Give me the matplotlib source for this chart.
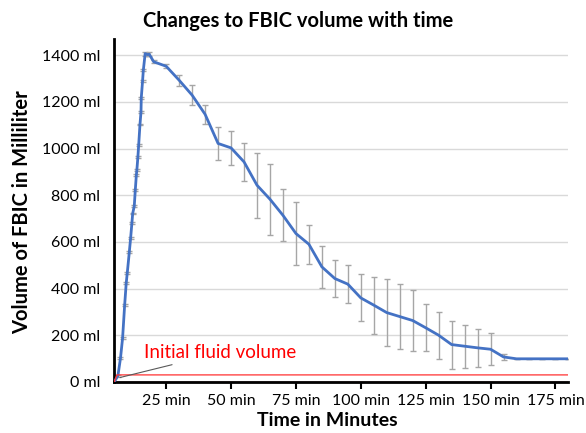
import matplotlib.pyplot as plt
from matplotlib.ticker import FuncFormatter

plt.rcParams['font.family'] = ['Lato', 'DejaVu Sans']

# time (min), volume (ml), error (ml)
minutes = [5, 6.4, 7.4, 8.2, 9.0, 9.6, 10.0, 10.8, 11.3, 11.8, 12.1, 12.7, 13.1, 13.5,
           13.7, 14.1, 14.4, 14.9, 15.3, 15.4, 15.9, 16.2, 16.9, 17.8, 18.5, 20.2,
           25, 30, 35, 40, 45, 50, 55, 60, 65, 70, 75, 80, 85, 90, 95, 100,
           105, 110, 115, 120, 125, 130, 135, 140, 145, 150, 155, 160, 165, 170, 175, 180]
volume = [0, 26, 102, 187, 329, 423, 466, 557, 616, 682, 722, 753, 822, 886,
          907, 964, 1014, 1103, 1157, 1217, 1289, 1336, 1407, 1403, 1404, 1372,
          1353, 1293, 1229, 1147, 1022, 1003, 943, 843, 783, 714, 636, 590, 493, 443, 419, 360,
          329, 297, 280, 263, 232, 200, 160, 153, 146, 140, 107, 99, 99, 99, 99, 99]
error = [0, 4, 4, 4, 4, 4, 4, 4, 4, 4, 4, 4, 4, 4,
         4, 4, 4, 4, 4, 4, 4, 4, 8, 8, 8, 6,
         9, 24, 43, 40, 69, 73, 80, 140, 153, 111, 135, 84, 90, 80, 80, 101,
         122, 145, 141, 130, 100, 100, 103, 93, 80, 68, 12, 0, 0, 0, 0, 0]

init_t = [5, 6, 180]
init_v = [0, 30, 30]

fig = plt.figure(figsize=(5.86, 4.33), dpi=100)
ax = fig.add_axes([0.195, 0.118, 0.775, 0.791])

ax.errorbar(minutes, volume, yerr=error, fmt='none', ecolor='#a6a6a6',
            elinewidth=1, capsize=2.2, capthick=1, zorder=2)
ax.plot(minutes, volume, color='#4472c4', lw=2, zorder=3)
ax.plot(init_t, init_v, color='#ff3030', lw=0.9, zorder=3)
ax.axhline(0, color='#c00000', lw=1, zorder=1)

ax.annotate('Initial fluid volume', xy=(6.2, 16), xytext=(16.6, 125),
            color='#ff0000', fontsize=13.5, va='center',
            arrowprops=dict(arrowstyle='-', color='#595959', lw=0.8))

ax.set_xlim(5, 180)
ax.set_ylim(0, 1468)
ax.set_xticks([25, 50, 75, 100, 125, 150, 175])
ax.set_yticks(range(0, 1401, 200))
ax.xaxis.set_major_formatter(FuncFormatter(lambda v, p: f'{int(v)} min'))
ax.yaxis.set_major_formatter(FuncFormatter(lambda v, p: f'{int(v)} ml'))
ax.tick_params(axis='x', length=5, width=1.5, color='black', labelsize=11.5, pad=4)
ax.tick_params(axis='y', length=0, labelsize=11.5, pad=10)
ax.grid(axis='y', color='#d9d9d9', lw=1)
ax.set_axisbelow(True)

for s in ['top', 'right']:
    ax.spines[s].set_visible(False)
for s in ['left', 'bottom']:
    ax.spines[s].set_linewidth(2)
    ax.spines[s].set_color('black')

fig.text(0.509, 0.952, 'Changes to FBIC volume with time', ha='center', va='center',
         fontsize=14.5, fontweight='bold')
fig.text(0.559, 0.03, 'Time in Minutes', ha='center', va='center',
         fontsize=14, fontweight='bold')
fig.text(0.0375, 0.51, 'Volume of FBIC in Milliliter', ha='center', va='center',
         rotation=90, fontsize=14.5, fontweight='bold')

fig.savefig('out.png', dpi=100)
